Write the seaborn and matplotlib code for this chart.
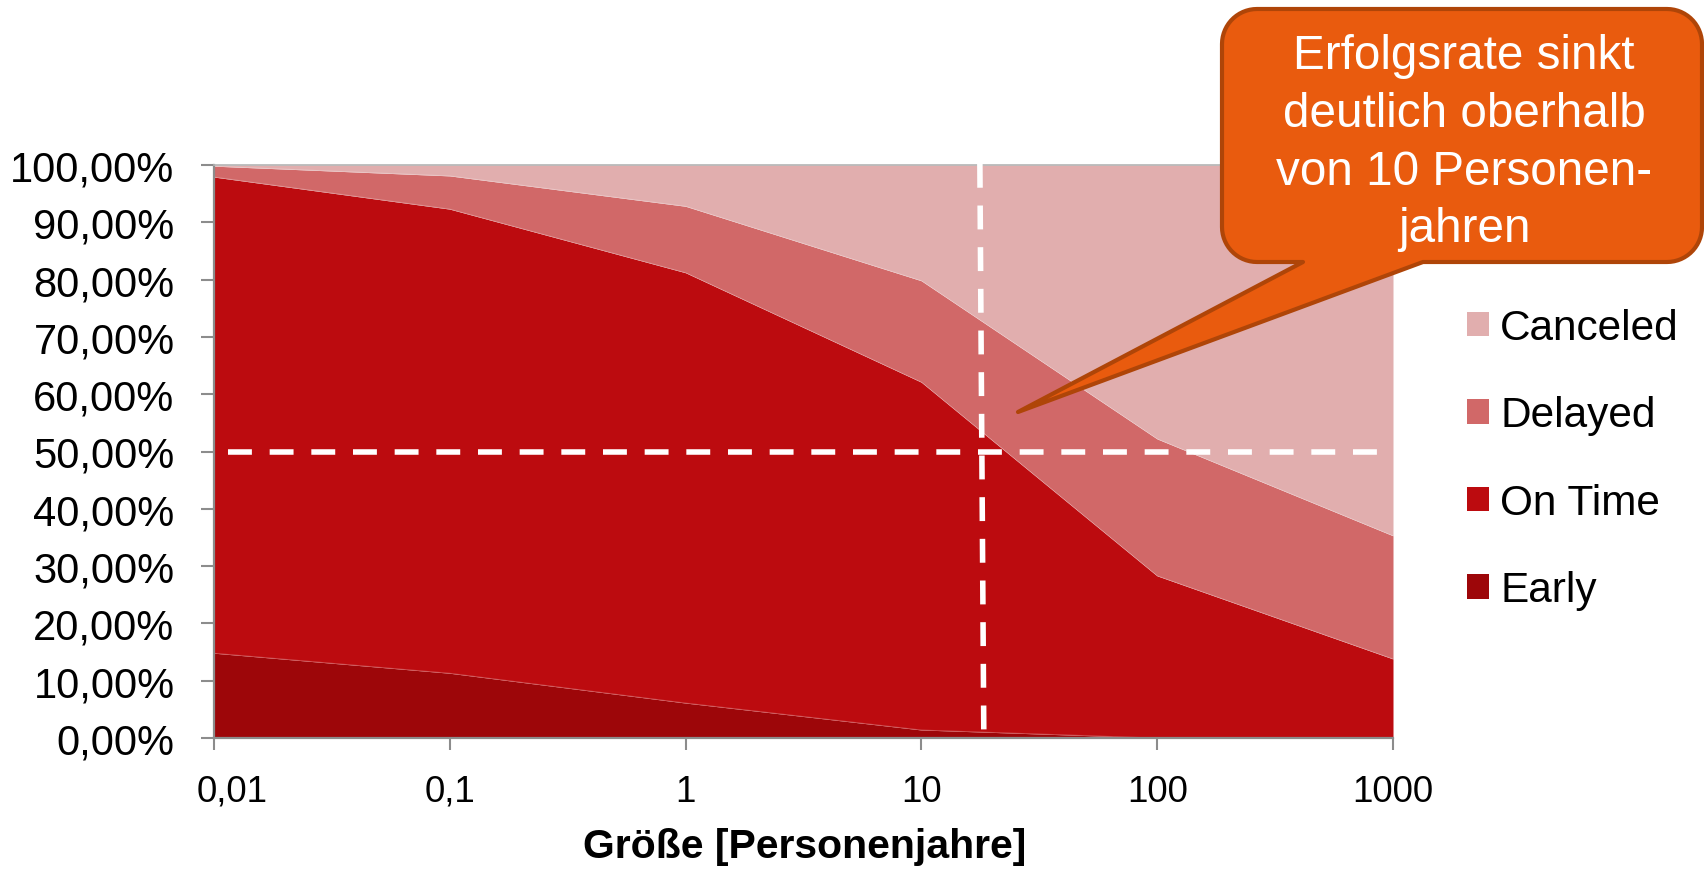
import numpy as np
import pandas as pd
import matplotlib
matplotlib.use("Agg")
import matplotlib.pyplot as plt
import matplotlib.transforms as mtransforms
import seaborn as sns
from matplotlib.patches import PathPatch, Patch
from matplotlib.path import Path

# Project outcome shares by project size (person-years)
sizes = [0.01, 0.1, 1, 10, 100, 1000]
size_labels = ["0,01", "0,1", "1", "10", "100", "1000"]
early = [14.8, 11.3, 6.1, 1.4, 0.0, 0.0]
on_time = [83.1, 81.0, 75.1, 60.7, 28.3, 13.8]
delayed = [1.9, 5.8, 11.6, 17.7, 23.9, 21.5]
canceled = [0.2, 1.9, 7.2, 20.2, 47.8, 64.7]

series_names = ["Early", "On Time", "Delayed", "Canceled"]
series_values = [early, on_time, delayed, canceled]
series_colors = ["#9D0609", "#BC0B0F", "#D16868", "#E1AEAE"]

y_ticks = [0, 10, 20, 30, 40, 50, 60, 70, 80, 90, 100]
x_title = "Größe [Personenjahre]"
callout_lines = ["Erfolgsrate sinkt", "deutlich oberhalb", "von 10 Personen-", "jahren"]
threshold_share = 50
threshold_size = (17.7, 18.4)

sns.set_theme(style="white")
plt.rcParams["font.family"] = ["Liberation Sans", "DejaVu Sans"]
plt.rcParams["text.color"] = "black"

W, H = 1704, 870
fig = plt.figure(figsize=(W / 100, H / 100), dpi=100)


def fx(px):
    return px / W


def fy(py):
    return 1 - py / H


ax = fig.add_axes([fx(214), fy(739), (1393 - 214) / W, (739 - 166) / H])

# Stacked areas built from cumulative shares
df = pd.DataFrame({"size": sizes})
lower = np.zeros(len(sizes))
for name, vals, col in zip(series_names, series_values, series_colors):
    upper = lower + np.array(vals)
    ax.fill_between(sizes, lower, upper, color=col, linewidth=0, zorder=1)
    df[name] = upper
    lower = upper

# faint seams along the boundaries between the bands
for name in series_names[:-1]:
    sns.lineplot(data=df, x="size", y=name, ax=ax, color="white",
                 alpha=0.25, linewidth=0.6, zorder=2, legend=False)

ax.set_xscale("log")
ax.set_xlim(sizes[0], sizes[-1])
ax.set_ylim(0, 100)
ax.minorticks_off()

ax.set_xticks(sizes)
ax.set_xticklabels(size_labels, fontsize=26.5)
ax.set_yticks(y_ticks)
ax.set_yticklabels([f"{v:.2f}%".replace(".", ",") for v in y_ticks], fontsize=30)
ax.set_xlabel("")
ax.set_ylabel("")

ax.tick_params(axis="y", which="major", length=9.4, width=1.5, color="#8C8C8C",
               pad=19, left=True, labelcolor="black")
ax.tick_params(axis="x", which="major", length=8.6, width=1.5, color="#8C8C8C",
               pad=17, bottom=True, labelcolor="black")

# first category label sits a little to the right of its tick
first = ax.get_xticklabels()[0]
first.set_transform(first.get_transform() +
                    mtransforms.ScaledTranslation(0.18, 0, fig.dpi_scale_trans))

for side in ["left", "bottom"]:
    ax.spines[side].set_color("#8C8C8C")
    ax.spines[side].set_linewidth(1.6)
ax.spines["top"].set_color("#B4B4B4")
ax.spines["top"].set_linewidth(1.2)
ax.spines["right"].set_visible(False)

# Threshold guide lines
ax.plot([0.01146, sizes[-1]], [threshold_share, threshold_share], color="white",
        linewidth=4, dashes=(4.3, 3.2), zorder=3, clip_on=False,
        solid_capstyle="butt", dash_capstyle="butt")
ax.plot([threshold_size[0], threshold_size[1]], [100.2, -0.2], color="white",
        linewidth=4, dashes=(4.3, 3.2), zorder=3, clip_on=False,
        dash_capstyle="butt")

fig.text(fx(805), fy(858), x_title, fontsize=29.5, fontweight="bold",
         color="black", ha="center", va="baseline")

# Legend (top to bottom: Canceled, Delayed, On Time, Early)
handles = [Patch(facecolor=c, edgecolor="none") for c in series_colors[::-1]]
leg = fig.legend(handles, series_names[::-1], loc="upper left",
                 bbox_to_anchor=(fx(1467), fy(309)), bbox_transform=fig.transFigure,
                 frameon=False, fontsize=30.5, handlelength=0.52, handleheight=0.52,
                 handletextpad=0.26, labelspacing=1.12, borderpad=0, borderaxespad=0)
for t in leg.get_texts():
    t.set_color("black")

# Speech-bubble callout
L, T, R, B, r = 1222, 10, 1702, 263, 35
pts = [(1303, B), (1018, 413), (1423, B), (R - r, B)]


def arc(cx, cy, a0, a1, n=16):
    return [(cx + r * np.cos(np.radians(a)), cy + r * np.sin(np.radians(a)))
            for a in np.linspace(a0, a1, n)]


pts += arc(R - r, B - r, 90, 0)
pts += arc(R - r, T + r, 0, -90)
pts += arc(L + r, T + r, -90, -180)
pts += arc(L + r, B - r, 180, 90)
pts.append((1303, B))
verts = [(fx(x), fy(y)) for x, y in pts]
codes = [Path.MOVETO] + [Path.LINETO] * (len(verts) - 2) + [Path.CLOSEPOLY]
bubble = PathPatch(Path(verts, codes), facecolor="#E95B0E", edgecolor="#AF4508",
                   linewidth=3.0, joinstyle="round", transform=fig.transFigure,
                   zorder=10)
fig.add_artist(bubble)

for line, base in zip(callout_lines, [69, 127, 185, 242]):
    fig.text(fx(1464), fy(base), line, fontsize=34.3, color="white",
             ha="center", va="baseline", zorder=11)

fig.savefig("out.png", dpi=100)
